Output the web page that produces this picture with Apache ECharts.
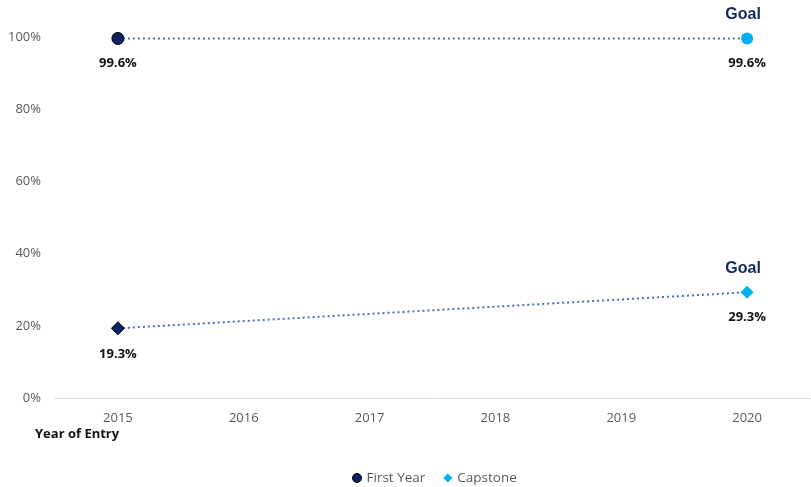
<!DOCTYPE html>
<html>
<head>
<meta charset="utf-8">
<script src="https://cdn.jsdelivr.net/npm/echarts@6/dist/echarts.min.js"></script>
<style>
  html, body { margin: 0; padding: 0; background: #fff; }
  #chart { width: 811px; height: 487px; }
</style>
</head>
<body>
<div id="chart"></div>
<script>
// Categories and values
const years = ['2015', '2016', '2017', '2018', '2019', '2020'];
const firstYear = [99.6, null, null, null, null, 99.6];
const capstone = [19.3, null, null, null, null, 29.3];
const goalLabel = 'Goal';
const yTicks = [0, 20, 40, 60, 80, 100];

const NAVY = '#0B2461';
const LIGHT = '#00B0F0';
const LINE = '#4472C4';

// Per-point styling: first point navy, goal point light blue
function points(values, symbol) {
  return values.map((v, i) => {
    if (v === null) return null;
    const isGoal = i === values.length - 1;
    return {
      value: v,
      symbol: symbol,
      itemStyle: {
        color: isGoal ? LIGHT : NAVY,
        borderColor: isGoal ? LIGHT : '#000',
        borderWidth: isGoal ? 0 : 1
      }
    };
  });
}

// Goal points only: they carry the "Goal" caption above each goal value
function goalPoints(values) {
  return values.map((v, i) => (i === values.length - 1 ? v : '-'));
}

const valueLabel = {
  show: true,
  position: 'bottom',
  distance: 12,
  formatter: p => p.value.toFixed(1) + '%',
  color: '#111',
  fontWeight: 'bold',
  fontSize: 13,
  fontFamily: 'Open Sans'
};

const goalText = {
  show: true,
  position: 'top',
  distance: 10,
  offset: [-4, 0],
  formatter: goalLabel,
  color: '#13285F',
  fontWeight: 'bold',
  fontSize: 16,
  fontFamily: 'Liberation Sans'
};

const chart = echarts.init(document.getElementById('chart'));
chart.setOption({
  animation: false,
  grid: { left: 55, right: 1, top: 37, bottom: 89 },
  legend: {
    bottom: -3,
    left: 347,
    itemWidth: 9,
    itemHeight: 9,
    itemGap: 18,
    textStyle: { color: '#595959', fontSize: 13.5, fontFamily: 'Open Sans' },
    data: [
      { name: 'First Year', icon: 'circle', itemStyle: { color: NAVY, borderColor: '#000', borderWidth: 1 } },
      { name: 'Capstone', icon: 'diamond', itemStyle: { color: LIGHT } }
    ]
  },
  xAxis: {
    type: 'category',
    data: years,
    boundaryGap: true,
    axisLine: { lineStyle: { color: '#D9D9D9', width: 1 } },
    axisTick: { show: false },
    axisLabel: { color: '#595959', fontSize: 13, fontFamily: 'Open Sans', margin: 14 }
  },
  yAxis: {
    type: 'value',
    min: yTicks[0],
    max: yTicks[yTicks.length - 1],
    interval: yTicks[1] - yTicks[0],
    splitLine: { show: false },
    axisLine: { show: false },
    axisTick: { show: false },
    axisLabel: {
      color: '#595959', fontSize: 13, fontFamily: 'Open Sans', margin: 14,
      formatter: v => v + '%'
    }
  },
  graphic: [{
    type: 'text',
    left: 35,
    top: 428,
    style: {
      text: 'Year of Entry',
      fill: '#111',
      font: 'bold 13px "Open Sans"'
    }
  }],
  series: [
    {
      name: 'First Year',
      type: 'line',
      connectNulls: true,
      symbol: 'circle',
      symbolSize: 12,
      itemStyle: { color: NAVY },
      lineStyle: { color: LINE, width: 2, type: [2, 3] },
      label: valueLabel,
      data: points(firstYear, 'circle'),
      z: 3
    },
    {
      name: 'Capstone',
      type: 'line',
      connectNulls: true,
      symbol: 'diamond',
      symbolSize: 13,
      itemStyle: { color: LIGHT },
      lineStyle: { color: LINE, width: 2, type: [2, 3] },
      label: valueLabel,
      data: points(capstone, 'diamond'),
      z: 3
    },
    {
      name: 'goal-top',
      type: 'scatter',
      symbol: 'circle',
      symbolSize: 12,
      itemStyle: { color: 'rgba(0,0,0,0)', opacity: 1 },
      label: goalText,
      data: goalPoints(firstYear),
      silent: true,
      z: 5
    },
    {
      name: 'goal-bottom',
      type: 'scatter',
      symbol: 'circle',
      symbolSize: 12,
      itemStyle: { color: 'rgba(0,0,0,0)', opacity: 1 },
      label: goalText,
      data: goalPoints(capstone),
      silent: true,
      z: 5
    }
  ]
});
</script>
</body>
</html>
